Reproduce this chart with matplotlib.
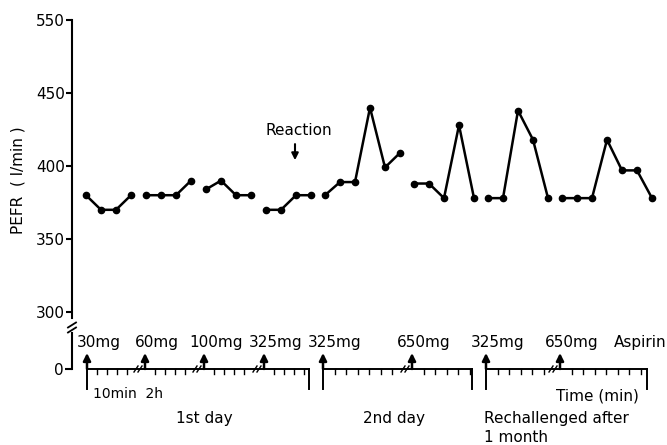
import matplotlib
matplotlib.use('Agg')
import matplotlib.pyplot as plt
import numpy as np

# PEFR readings (l/min), one list per challenge
pefr_groups = [
    [380, 370, 370, 380],             # 30mg
    [380, 380, 380, 390],             # 60mg
    [384, 390, 380, 380],             # 100mg
    [370, 370, 380, 380],             # 325mg
    [380, 389, 389, 440, 399, 409],   # 325mg, 2nd day
    [388, 388, 378, 428, 378],        # 650mg, 2nd day
    [378, 378, 438, 418, 378],        # 325mg, rechallenge
    [378, 378, 378, 418, 397, 397, 378],  # 650mg, rechallenge
]
group_start = [86, 146, 206, 266, 325, 414, 488, 562]
point_step = 15

doses = ['30mg', '60mg', '100mg', '325mg', '325mg', '650mg', '325mg', '650mg']
dose_time = [87, 145, 204, 264, 323, 412, 486, 560]

# time axis segments: (start, end, dose indices, ticks after each dose, tick spacing)
segments = [
    (87, 309, [0, 1, 2, 3], [4, 4, 4, 4], 10),
    (323, 472, [4, 5], [6, 5], 11.5),
    (486, 647, [6, 7], [5, 7], 11.5),
]

yticks = [300, 350, 400, 450, 500]
ytick_labels = ['300', '350', '400', '450', '550']

W, H = 667, 445
fig = plt.figure(figsize=(W / 100, H / 100), dpi=100)
fs = 11

# upper panel: PEFR
ax = fig.add_axes([0, 1 - 318 / H, 1, 318 / H])
ax.set_xlim(0, W)
ax.set_ylim(295.9, 513.7)
for s in ['top', 'right', 'bottom']:
    ax.spines[s].set_visible(False)
ax.spines['left'].set_position(('data', 72))
ax.spines['left'].set_bounds(295.9, 500)
ax.spines['left'].set_linewidth(1.5)
ax.set_xticks([])
ax.set_yticks(yticks)
ax.set_yticklabels(ytick_labels, fontsize=fs)
ax.tick_params(axis='y', length=4, width=1.5, pad=1)

for start, vals in zip(group_start, pefr_groups):
    xs = start + point_step * np.arange(len(vals))
    ax.plot(xs, vals, color='black', lw=1.8, marker='o', markersize=4.5)

ax.text(18, 390, 'PEFR  ( l/min )', rotation=90, ha='center', va='center', fontsize=fs)
ax.text(299, 424, 'Reaction', ha='center', va='center', fontsize=fs)
ax.annotate('', xy=(295, 404), xytext=(295, 415),
            arrowprops=dict(arrowstyle='-|>', color='black', lw=1.5,
                            shrinkA=0, shrinkB=0, mutation_scale=10))

# lower panel: dosing time axis
bx = fig.add_axes([0, 0, 1, 123 / H])
bx.set_xlim(0, W)
bx.set_ylim(-76, 47)
for s in ['top', 'right', 'bottom']:
    bx.spines[s].set_visible(False)
bx.spines['left'].set_position(('data', 72))
bx.spines['left'].set_bounds(0, 36)
bx.spines['left'].set_linewidth(1.5)
bx.set_xticks([])
bx.set_yticks([0])
bx.set_yticklabels(['0'], fontsize=fs)
bx.tick_params(axis='y', length=5, width=1.5, pad=1)

# y-axis break marks
for yb in [44, 39]:
    bx.plot([68, 76], [yb - 2.5, yb + 2.5], color='black', lw=1.3, clip_on=False)


def slash(x0):
    for dx in (-2, 2):
        bx.plot([x0 + dx - 2, x0 + dx + 2], [-3, 3], color='black', lw=1)


for start, end, idx, nticks, step in segments:
    bx.plot([start, end], [0, 0], color='black', lw=1.4)
    bx.plot([start, start], [0, -20], color='black', lw=1.4)
    bx.plot([end, end], [0, -20], color='black', lw=1.4)
    for k, (i, n) in enumerate(zip(idx, nticks)):
        t = dose_time[i]
        for j in range(1, n + 1):
            bx.plot([t + j * step, t + j * step], [0, -5], color='black', lw=1)
        if k > 0:
            slash(t - 7)
        bx.annotate('', xy=(t, 16), xytext=(t, 0),
                    arrowprops=dict(arrowstyle='-|>', color='black', lw=1.8,
                                    shrinkA=0, shrinkB=0, mutation_scale=11))
        bx.text(t + 12, 27, doses[i], ha='center', va='center', fontsize=fs)

bx.text(640, 27, 'Aspirin', ha='center', va='center', fontsize=fs)
bx.text(128, -25, '10min  2h', ha='center', va='center', fontsize=fs - 1)
bx.text(204, -49, '1st day', ha='center', va='center', fontsize=fs)
bx.text(394, -49, '2nd day', ha='center', va='center', fontsize=fs)
bx.text(597, -27, 'Time (min)', ha='center', va='center', fontsize=fs)
bx.text(484, -49, 'Rechallenged after', ha='left', va='center', fontsize=fs)
bx.text(484, -69, '1 month', ha='left', va='center', fontsize=fs)

fig.savefig('out.png', dpi=100)
